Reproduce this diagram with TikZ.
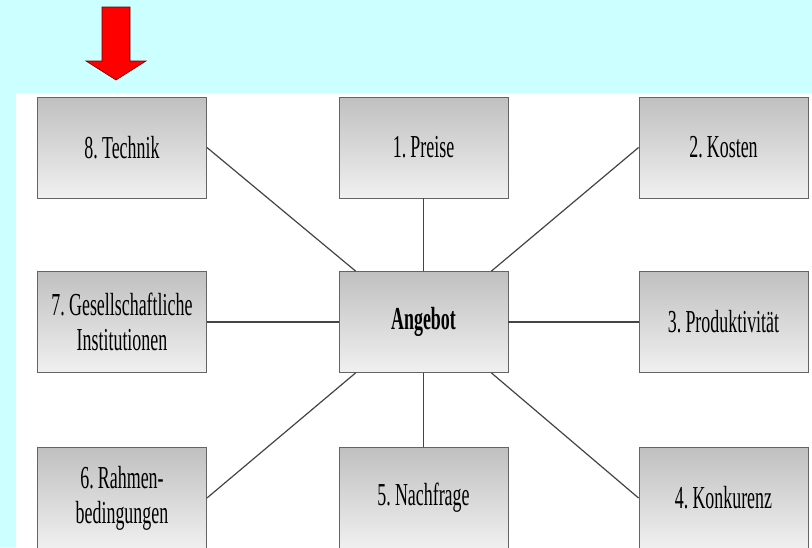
\documentclass[tikz,border=0pt]{standalone}
\usepackage{fontspec}
\usetikzlibrary{calc}
\newfontfamily\boxfont[FakeStretch=0.56, WordSpace=0.6]{Liberation Serif}

\definecolor{himmel}{RGB}{204,255,255}
\definecolor{boxoben}{RGB}{192,192,192}
\definecolor{boxunten}{RGB}{240,240,240}
\definecolor{rahmen}{RGB}{100,100,100}
\definecolor{linie}{RGB}{68,68,68}

\tikzset{
  faktor/.style={draw=rahmen, line width=0.9pt, top color=boxoben, bottom color=boxunten,
    minimum width=169pt, minimum height=101pt, inner sep=2pt, align=center,
    font=\boxfont\fontsize{32}{35}\selectfont},
  kante/.style={draw=linie, line width=1.2pt}
}

\begin{document}
\begin{tikzpicture}[x=1pt, y=-1pt]
  % Page and background
  \useasboundingbox (0,0) rectangle (812,547);
  \clip (0,0) rectangle (812,547);
  \fill[himmel] (0,0) rectangle (812,547);
  \fill[white] (16,93) rectangle (812,547);

  % Red arrow pointing at 8. Technik
  \filldraw[fill=red, draw=red!40!black, line width=0.6pt]
    (102,7) -- (130,7) -- (130,61) -- (146,61) -- (116,80) -- (86,61) -- (102,61) -- cycle;

  % Centre box
  \node[faktor] (ang) at (423.5,322) {\bfseries Angebot};

  % Outer boxes
  \node[faktor] (tech) at (122,147.5) {8. Technik};
  \node[faktor] (preis) at (423.5,147.5) {1. Preise};
  \node[faktor] (kost) at (723.5,147.5) {2. Kosten};
  \node[faktor] (ges) at (122,322) {7. Gesellschaftliche\\Institutionen};
  \node[faktor] (prod) at (723.5,322) {3. Produktivität};
  \node[faktor] (rahm) at (122,498) {6. Rahmen-\\bedingungen};
  \node[faktor] (nach) at (423.5,498) {5. Nachfrage};
  \node[faktor] (konk) at (723.5,498) {4. Konkurenz};

  % Ends of the diagonals on the centre box
  \coordinate (ang-nw) at ($(ang.north west)!0.1!(ang.north east)$);
  \coordinate (ang-ne) at ($(ang.north east)!0.1!(ang.north west)$);
  \coordinate (ang-sw) at ($(ang.south west)!0.1!(ang.south east)$);
  \coordinate (ang-se) at ($(ang.south east)!0.1!(ang.south west)$);

  % Connectors
  \draw[kante] (tech.east) -- (ang-nw);
  \draw[kante] (kost.west) -- (ang-ne);
  \draw[kante] (rahm.east) -- (ang-sw);
  \draw[kante] (konk.west) -- (ang-se);
  \draw[kante] (preis.south) -- (ang.north);
  \draw[kante] (nach.north) -- (ang.south);
  \draw[kante] (ges.east) -- (ang.west);
  \draw[kante] (prod.west) -- (ang.east);
\end{tikzpicture}
\end{document}
